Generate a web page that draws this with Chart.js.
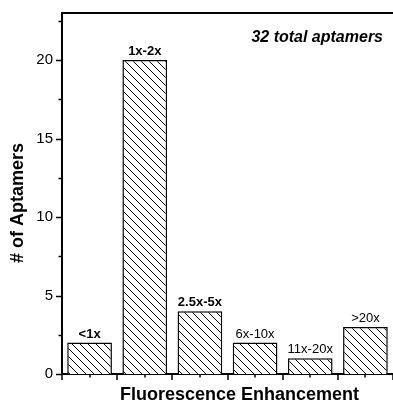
<!DOCTYPE html>
<html>
<head>
<meta charset="utf-8">
<script src="https://cdn.jsdelivr.net/npm/chart.js@4.4.0/dist/chart.umd.min.js"></script>
<style>
    html, body { margin: 0; padding: 0; background: #fff; }
    #wrap { width: 393px; height: 409px; }
</style>
</head>
<body>
<div id="wrap"><canvas id="histChart" width="393" height="409"></canvas></div>
<script>
// data
const categories = ['<1x', '1x-2x', '2.5x-5x', '6x-10x', '11x-20x', '>20x'];
const counts = [2, 20, 4, 2, 1, 3];
const labelBold = [true, true, true, false, false, false];
const yMajorTicks = [0, 5, 10, 15, 20];
const yMinorTicks = [2.5, 7.5, 12.5, 17.5, 22.5];
const yMax = 23;
const xTitle = 'Fluorescence Enhancement';
const yTitle = '# of Aptamers';
const note = '32 total aptamers';

const FONT = '"Liberation Sans", Arial, Helvetica, sans-serif';

// ----------------------------------------------------
// Hatch pattern (\\\ diagonal lines)
// ----------------------------------------------------
const patternCanvas = document.createElement('canvas');
const pctx = patternCanvas.getContext('2d');
patternCanvas.width = 8;
patternCanvas.height = 8;
pctx.fillStyle = '#fff';
pctx.fillRect(0, 0, 8, 8);
pctx.strokeStyle = '#000';
pctx.lineWidth = 1;
pctx.beginPath();
pctx.moveTo(-1, -1);
pctx.lineTo(9, 9);
pctx.moveTo(-1, 7);
pctx.lineTo(1, 9);
pctx.moveTo(7, -1);
pctx.lineTo(9, 1);
pctx.stroke();

// ----------------------------------------------------
// Frame, tick marks, bar labels and titles
// ----------------------------------------------------
const decorPlugin = {
    id: 'decor',
    afterDraw(chart) {
        const ctx = chart.ctx;
        const area = chart.chartArea;
        const xs = chart.scales.x;
        const ys = chart.scales.y;
        ctx.save();
        ctx.strokeStyle = '#000';

        // top frame line
        ctx.lineWidth = 2;
        ctx.beginPath();
        ctx.moveTo(area.left - 1, area.top);
        ctx.lineTo(chart.width, area.top);
        ctx.stroke();

        // y ticks (outward)
        ctx.lineWidth = 1.5;
        ctx.beginPath();
        yMajorTicks.forEach(v => {
            const y = Math.round(ys.getPixelForValue(v)) + 0.5;
            ctx.moveTo(area.left - 6, y);
            ctx.lineTo(area.left, y);
        });
        yMinorTicks.forEach(v => {
            const y = Math.round(ys.getPixelForValue(v)) + 0.5;
            ctx.moveTo(area.left - 3.5, y);
            ctx.lineTo(area.left, y);
        });
        // x ticks: major at category edges, minor at centres
        for (let i = 0; i <= categories.length; i++) {
            const x = Math.round(xs.getPixelForValue(i - 0.5));
            ctx.moveTo(x, area.bottom);
            ctx.lineTo(x, area.bottom + 6);
        }
        for (let i = 0; i < categories.length; i++) {
            const x = Math.round(xs.getPixelForValue(i));
            ctx.moveTo(x, area.bottom);
            ctx.lineTo(x, area.bottom + 3.5);
        }
        ctx.stroke();

        // category labels above bars
        ctx.fillStyle = '#000';
        ctx.textAlign = 'center';
        ctx.textBaseline = 'bottom';
        chart.getDatasetMeta(0).data.forEach((bar, i) => {
            ctx.font = (labelBold[i] ? 'bold ' : '') + '13px ' + FONT;
            ctx.fillText(categories[i], bar.x, bar.y - 2);
        });

        // axis titles
        ctx.font = 'bold 18px ' + FONT;
        ctx.textBaseline = 'middle';
        ctx.fillText(xTitle, (area.left + area.right) / 2 + 12, 395);
        ctx.save();
        ctx.translate(18, 203);
        ctx.rotate(-Math.PI / 2);
        ctx.fillText(yTitle, 0, 0);
        ctx.restore();

        // note
        ctx.font = 'italic bold 16px ' + FONT;
        ctx.textAlign = 'right';
        ctx.fillText(note, 383, 38);

        ctx.restore();
    }
};

const histEl = document.getElementById('histChart');
new Chart(histEl.getContext('2d'), {
    type: 'bar',
    data: {
        labels: categories,
        datasets: [{
            data: counts,
            backgroundColor: histEl.getContext('2d').createPattern(patternCanvas, 'repeat'),
            borderColor: '#000',
            borderWidth: 1.5,
            barPercentage: 0.81,
            categoryPercentage: 1
        }]
    },
    options: {
        responsive: false,
        animation: false,
        layout: { padding: { top: 13, right: 0, left: 0, bottom: 0 } },
        plugins: { legend: { display: false }, tooltip: { enabled: false } },
        scales: {
            x: {
                offset: true,
                grid: { display: false, drawTicks: false },
                border: { color: '#000', width: 2 },
                ticks: { display: false },
                afterFit: s => {
                    s.height = 35;
                    s.paddingLeft = 0;
                    s.paddingRight = 0;
                }
            },
            y: {
                min: 0,
                max: yMax,
                grid: { display: false, drawTicks: false },
                border: { color: '#000', width: 2 },
                ticks: {
                    stepSize: 5,
                    includeBounds: false,
                    padding: 9,
                    color: '#000',
                    font: { family: FONT, size: 15 },
                    callback: v => yMajorTicks.includes(v) ? v : ''
                },
                afterFit: s => {
                    s.width = 62;
                    s.paddingTop = 0;
                    s.paddingBottom = 0;
                }
            }
        }
    },
    plugins: [decorPlugin]
});
</script>
</body>
</html>
